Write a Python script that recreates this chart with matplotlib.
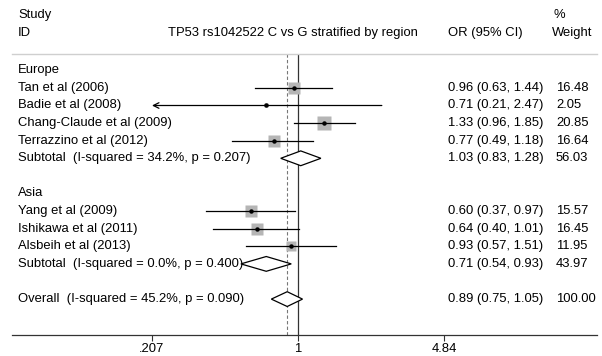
import matplotlib
matplotlib.use("Agg")
import matplotlib.pyplot as plt
import matplotlib.transforms as mtransforms
import numpy as np

plt.rcParams['font.family'] = ['Liberation Sans', 'DejaVu Sans']

# ---- data ----
labels = ["Europe", "Tan et al (2006)", "Badie et al (2008)", "Chang-Claude et al (2009)",
          "Terrazzino et al (2012)", "Subtotal  (I-squared = 34.2%, p = 0.207)", "",
          "Asia", "Yang et al (2009)", "Ishikawa et al (2011)", "Alsbeih et al (2013)",
          "Subtotal  (I-squared = 0.0%, p = 0.400)", "",
          "Overall  (I-squared = 45.2%, p = 0.090)"]
kinds = ["head", "study", "study", "study", "study", "sub", "blank",
         "head", "study", "study", "study", "sub", "blank", "sub"]
or_est = [None, 0.96, 0.71, 1.33, 0.77, 1.03, None, None, 0.60, 0.64, 0.93, 0.71, None, 0.89]
ci_lo = [None, 0.63, 0.21, 0.96, 0.49, 0.83, None, None, 0.37, 0.40, 0.57, 0.54, None, 0.75]
ci_hi = [None, 1.44, 2.47, 1.85, 1.18, 1.28, None, None, 0.97, 1.01, 1.51, 0.93, None, 1.05]
weights = [None, 16.48, 2.05, 20.85, 16.64, 56.03, None, None, 15.57, 16.45, 11.95, 43.97, None, 100.00]
tick_vals = [0.207, 1, 4.84]
tick_labels = [".207", "1", "4.84"]
overall_est = 0.89
axis_min = 0.207

title = "TP53 rs1042522 C vs G stratified by region"

# ---- figure ----
fig = plt.figure(figsize=(6.02, 3.56), dpi=100)
W, H = 602, 356
left_px, right_px = 12, 597
top_px, bot_px = 54, 335
ax = fig.add_axes([left_px / W, 1 - bot_px / H, (right_px - left_px) / W, (bot_px - top_px) / H])
ax.set_xscale('log')
scale = 92.7  # px per ln unit
x_at = lambda px: np.exp((px - 298) / scale)
ax.set_xlim(x_at(left_px), x_at(right_px))
row0, rowh = 70.3, 17.6
y_at = lambda px: (px - row0) / rowh
ax.set_ylim(y_at(bot_px), y_at(top_px))

fs = 9.4
for s in ['left', 'right']:
    ax.spines[s].set_visible(False)
ax.spines['top'].set_color('#cfcfcf')
ax.spines['top'].set_linewidth(1.0)
ax.spines['bottom'].set_color('#333333')
ax.spines['bottom'].set_linewidth(0.9)
ax.set_yticks([])
ax.xaxis.set_minor_locator(matplotlib.ticker.NullLocator())
ax.set_xticks(tick_vals)
ax.set_xticklabels(tick_labels, fontsize=fs)
ax.tick_params(axis='x', length=4, width=0.8, color='#333333', pad=2)

ax.axvline(1, color='#333333', lw=0.9, zorder=1)
ax.axvline(overall_est, color='#777777', lw=0.8, ls=(0, (3, 2)), zorder=1)

trans = mtransforms.blended_transform_factory(ax.transAxes, ax.transData)
fx = lambda px: (px - left_px) / (right_px - left_px)

for i, (lab, k) in enumerate(zip(labels, kinds)):
    if lab:
        ax.text(fx(18), i, lab, transform=trans, fontsize=fs, va='center', ha='left', clip_on=False)
    if k == "study":
        e, lo, hi, w = or_est[i], ci_lo[i], ci_hi[i], weights[i]
        ax.plot([e], [i], marker='s', ms=2.19 * np.sqrt(w), color='#b5b5b5', mec='none', zorder=2)
        if lo < axis_min * 1.05:
            ax.annotate("", xy=(axis_min, i), xytext=(hi, i),
                        arrowprops=dict(arrowstyle='->', lw=0.9, color='black', mutation_scale=10,
                                        shrinkA=0, shrinkB=0), zorder=3)
        else:
            ax.plot([lo, hi], [i, i], color='black', lw=0.9, zorder=3)
        ax.plot([e], [i], marker='o', ms=2.2, color='black', zorder=4)
    elif k == "sub":
        e, lo, hi = or_est[i], ci_lo[i], ci_hi[i]
        h = 0.42
        ax.fill([lo, e, hi, e, lo], [i, i - h, i, i + h, i], facecolor='white',
                edgecolor='black', lw=0.9, zorder=3)
    if or_est[i] is not None:
        ax.text(fx(448), i, f"{or_est[i]:.2f} ({ci_lo[i]:.2f}, {ci_hi[i]:.2f})", transform=trans,
                fontsize=fs, va='center', ha='left', clip_on=False)
        ax.text(fx(556), i, f"{weights[i]:.2f}", transform=trans,
                fontsize=fs, va='center', ha='left', clip_on=False)

# headers
ax.text(fx(18), y_at(15), "Study", transform=trans, fontsize=fs, va='center', ha='left', clip_on=False)
ax.text(fx(18), y_at(33), "ID", transform=trans, fontsize=fs, va='center', ha='left', clip_on=False)
ax.text(fx(292.5), y_at(33), title, transform=trans, fontsize=fs, va='center', ha='center', clip_on=False)
ax.text(fx(448), y_at(33), "OR (95% CI)", transform=trans, fontsize=fs, va='center', ha='left', clip_on=False)
ax.text(fx(554), y_at(15), "%", transform=trans, fontsize=fs, va='center', ha='left', clip_on=False)
ax.text(fx(552), y_at(33), "Weight", transform=trans, fontsize=fs, va='center', ha='left', clip_on=False)

fig.savefig("out.png", dpi=100)
